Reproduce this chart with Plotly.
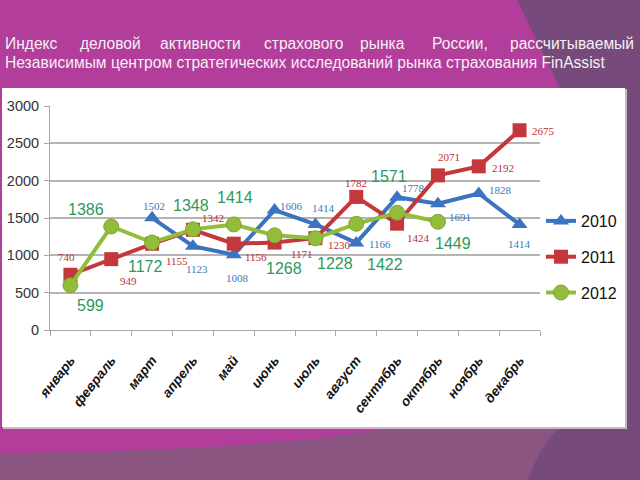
import plotly.graph_objects as go

months = ["январь", "февраль", "март", "апрель", "май", "июнь", "июль",
          "август", "сентябрь", "октябрь", "ноябрь", "декабрь"]
y2010 = [None, None, 1502, 1123, 1008, 1606, 1414, 1166, 1778, 1691, 1828, 1414]
y2011 = [740, 949, 1155, 1342, 1156, 1171, 1230, 1782, 1424, 2071, 2192, 2675]
y2012 = [599, 1386, 1172, 1348, 1414, 1268, 1228, 1422, 1571, 1449, None, None]
y_ticks = [0, 500, 1000, 1500, 2000, 2500, 3000]
title_line1 = ["Индекс", "деловой", "активности", "страхового", "рынка", "России,", "рассчитываемый"]
title_line2 = "Независимым центром стратегических исследований рынка страхования FinAssist"

# label offsets (px) per point: (dx, dy)
off2010 = [None, None, (2, 12), (4, -23), (4, -23), (17, 4), (8, 16), (24, -1), (16, 9), (22, -13), (22, 4), (0, -20)]
off2011 = [(-4, 18), (17, -22), (25, -17), (20, 12), (22, -13), (27, -11), (24, -7), (0, 14), (21, -14), (11, 18), (24, -2), (24, -1)]
off2012 = [(20, -20), (-25, 17), (-7, -24), (-2, 24), (1, 27), (9, -33), (20, -25), (29, -41), (-8, 36), (15, -22), None, None]

W, H = 640, 480
L, R, T, B = 50, 100, 106, 150
PW, PH = W - L - R, H - T - B


def px(x):
    return (x - L) / PW


def py(y):
    return (H - B - y) / PH


fig = go.Figure()

C2010, C2011, C2012 = "#3a73c0", "#c4373a", "#92bd3a"
fig.add_trace(go.Scatter(x=months, y=y2010, name="2010", mode="lines+markers",
                         line=dict(color=C2010, width=4),
                         marker=dict(symbol="triangle-up", size=14, color=C2010)))
fig.add_trace(go.Scatter(x=months, y=y2011, name="2011", mode="lines+markers",
                         line=dict(color=C2011, width=4),
                         marker=dict(symbol="square", size=14, color=C2011)))
fig.add_trace(go.Scatter(x=months, y=y2012, name="2012", mode="lines+markers",
                         line=dict(color=C2012, width=4),
                         marker=dict(symbol="circle", size=15, color=C2012,
                                     line=dict(color="#7fa832", width=1))))

annotations = []
for vals, offs, col, fam, size in [
    (y2010, off2010, "#3d78b8", "Liberation Serif", 11),
    (y2011, off2011, "#b8312f", "Liberation Serif", 11),
    (y2012, off2012, "#2a9a5a", "Liberation Sans", 16),
]:
    for m, v, o in zip(months, vals, offs):
        if v is None:
            continue
        annotations.append(dict(x=m, y=v, xref="x", yref="y", text=str(v),
                                showarrow=False, xshift=o[0], yshift=o[1],
                                font=dict(family=fam, size=size, color=col)))

# title
TITLE_FONT = dict(family="Liberation Sans", size=15.6, color="#f4f0f4")
word_x = [3, 78, 158, 262, 358, 430, 508]
for wx, w in zip(word_x, title_line1):
    annotations.append(dict(x=px(wx), y=py(43), xref="paper", yref="paper", text=w,
                            showarrow=False, xanchor="left", yanchor="middle", font=TITLE_FONT))
annotations.append(dict(x=px(3), y=py(63), xref="paper", yref="paper", text=title_line2,
                        showarrow=False, xanchor="left", yanchor="middle", font=TITLE_FONT))

shapes = [
    # bottom grey-purple area
    dict(type="path", xref="paper", yref="paper", layer="below", line=dict(width=0),
         fillcolor="#8b5581",
         path=f"M {px(0):.4f},{py(453):.4f} Q {px(250):.4f},{py(452):.4f} {px(400):.4f},{py(427):.4f} "
              f"L {px(640):.4f},{py(427):.4f} L {px(640):.4f},{py(480):.4f} L {px(0):.4f},{py(480):.4f} Z"),
    # right dark purple area
    dict(type="path", xref="paper", yref="paper", layer="below", line=dict(width=0),
         fillcolor="#764a7a",
         path=f"M {px(517):.4f},{py(0):.4f} L {px(640):.4f},{py(0):.4f} L {px(640):.4f},{py(480):.4f} "
              f"L {px(528):.4f},{py(480):.4f} Q {px(540):.4f},{py(445):.4f} {px(560):.4f},{py(427):.4f} "
              f"L {px(560):.4f},{py(88):.4f} Z"),
    # panel shadow
    dict(type="rect", xref="paper", yref="paper", layer="below",
         x0=px(3), x1=px(627), y0=py(429), y1=py(89),
         fillcolor="#c8b8c8", line=dict(width=0)),
    # white chart panel
    dict(type="rect", xref="paper", yref="paper", layer="below",
         x0=px(2), x1=px(625), y0=py(427), y1=py(88),
         fillcolor="white", line=dict(width=0)),
]

fig.update_layout(
    width=W, height=H,
    margin=dict(l=L, r=R, t=T, b=B, pad=0, autoexpand=False),
    paper_bgcolor="#b23d9b",
    plot_bgcolor="rgba(0,0,0,0)",
    showlegend=True,
    legend=dict(x=px(541), y=py(204), xanchor="left", yanchor="top",
                bgcolor="rgba(0,0,0,0)", tracegroupgap=12, itemwidth=30,
                font=dict(family="Liberation Sans", size=16, color="#111111")),
    xaxis=dict(showgrid=False, showline=True, linecolor="#a8a8a8", linewidth=1,
               ticks="outside", tickson="boundaries", ticklen=5, tickcolor="#a8a8a8",
               tickangle=-52, ticklabelstandoff=16, automargin=False,
               tickfont=dict(family="Liberation Sans", size=13.5, color="#111111",
                             style="italic", weight="bold"),
               range=[-0.5, 11.5], fixedrange=True),
    yaxis=dict(range=[0, 3000], tickvals=y_ticks, showgrid=True, gridcolor="#b4b4b4", gridwidth=1.5,
               showline=True, linecolor="#a8a8a8", ticks="outside", ticklen=5, tickcolor="#a8a8a8",
               zeroline=False, ticklabelstandoff=2, automargin=False,
               tickfont=dict(family="Liberation Sans", size=14.5, color="#333333")),
    annotations=annotations,
    shapes=shapes,
)
for i, tr in enumerate(fig.data):
    tr.legendgroup = str(i)

fig.write_html("out.html")
